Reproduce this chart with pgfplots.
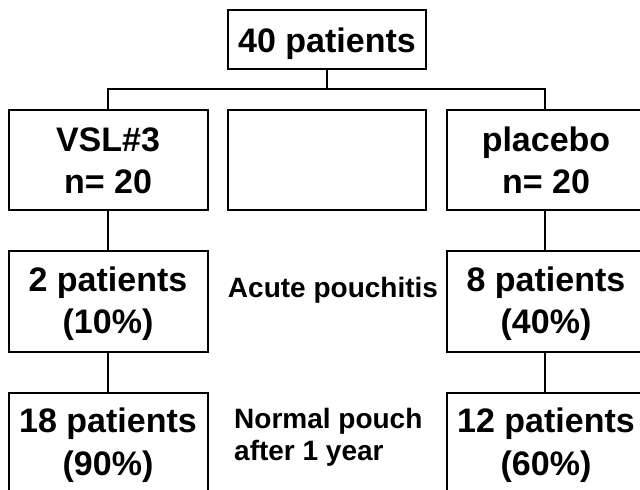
\documentclass[border=0pt]{standalone}
\usepackage{pgfplots}
\pgfplotsset{compat=1.18}
\usepackage{fontspec}
\setmainfont{Liberation Sans}
\newcommand{\bigtxt}{\fontsize{34bp}{40bp}\selectfont\bfseries}
\newcommand{\midtxt}{\fontsize{28bp}{32bp}\selectfont\bfseries}
\begin{document}
\begin{tikzpicture}
\begin{axis}[
  width=640bp, height=489bp, scale only axis,
  xmin=0, xmax=640, ymin=0, ymax=489, y dir=reverse,
  axis line style={draw=none}, ticks=none,
  clip=true,
]
% boxes
\addplot[black, line width=1.6bp, line cap=rect, line join=miter] coordinates {(228,10) (426,10) (426,69) (228,69) (228,10)};
\addplot[black, line width=1.6bp, line cap=rect, line join=miter] coordinates {(9,110) (208,110) (208,210) (9,210) (9,110)};
\addplot[black, line width=1.6bp, line cap=rect, line join=miter] coordinates {(228,110) (426,110) (426,210) (228,210) (228,110)};
\addplot[black, line width=1.6bp, line cap=rect, line join=miter] coordinates {(642,110) (447,110) (447,210) (642,210)};
\addplot[black, line width=1.6bp, line cap=rect, line join=miter] coordinates {(9,251) (208,251) (208,352) (9,352) (9,251)};
\addplot[black, line width=1.6bp, line cap=rect, line join=miter] coordinates {(642,251) (447,251) (447,352) (642,352)};
\addplot[black, line width=1.6bp, line cap=rect, line join=miter] coordinates {(9,500) (9,393) (208,393) (208,500)};
\addplot[black, line width=1.6bp, line cap=rect, line join=miter] coordinates {(447,500) (447,393) (642,393)};
% connectors
\addplot[black, line width=1.3bp] coordinates {(327,69) (327,89)};
\addplot[black, line width=1.3bp] coordinates {(108,110) (108,89) (545,89) (545,110)};
\addplot[black, line width=1.3bp] coordinates {(108,210) (108,251)};
\addplot[black, line width=1.3bp] coordinates {(545,210) (545,251)};
\addplot[black, line width=1.3bp] coordinates {(108,352) (108,393)};
\addplot[black, line width=1.3bp] coordinates {(545,352) (545,393)};
% texts
\node[anchor=base, inner sep=0pt] at (axis cs:327,53) {\bigtxt 40 patients};
\node[anchor=base, inner sep=0pt] at (axis cs:108,151) {\bigtxt VSL\#3};
\node[anchor=base, inner sep=0pt] at (axis cs:108,193) {\bigtxt n= 20};
\node[anchor=base, inner sep=0pt] at (axis cs:546,151) {\bigtxt placebo};
\node[anchor=base, inner sep=0pt] at (axis cs:546,193) {\bigtxt n= 20};
\node[anchor=base, inner sep=0pt] at (axis cs:108,291) {\bigtxt 2 patients};
\node[anchor=base, inner sep=0pt] at (axis cs:108,333) {\bigtxt (10\%)};
\node[anchor=base, inner sep=0pt] at (axis cs:546,291) {\bigtxt 8 patients};
\node[anchor=base, inner sep=0pt] at (axis cs:546,333) {\bigtxt (40\%)};
\node[anchor=base, inner sep=0pt] at (axis cs:108,432) {\bigtxt 18 patients};
\node[anchor=base, inner sep=0pt] at (axis cs:108,475) {\bigtxt (90\%)};
\node[anchor=base, inner sep=0pt] at (axis cs:546,432) {\bigtxt 12 patients};
\node[anchor=base, inner sep=0pt] at (axis cs:546,475) {\bigtxt (60\%)};
\node[anchor=base, inner sep=0pt] at (axis cs:333,297) {\midtxt Acute pouchitis};
\node[anchor=base west, inner sep=0pt] at (axis cs:234,428) {\midtxt Normal pouch};
\node[anchor=base west, inner sep=0pt] at (axis cs:234,460) {\midtxt after 1 year};
\end{axis}
\end{tikzpicture}
\end{document}
